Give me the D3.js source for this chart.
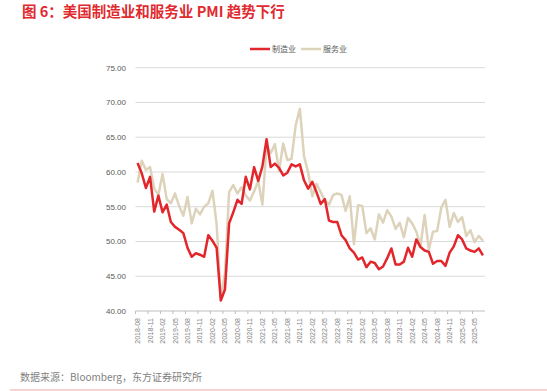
<!DOCTYPE html>
<html>
<head>
<meta charset="utf-8">
<script src="https://cdn.jsdelivr.net/npm/d3@7/dist/d3.min.js"></script>
<style>
  body { margin: 0; background: #fff; }
  svg { display: block; font-family: "Noto Sans CJK SC", "Liberation Sans", sans-serif; }
</style>
</head>
<body>
<svg id="chart"></svg>
<script>
// months 2018-08 .. 2025-07
const months = d3.range(84).map(i => {
  const m = 7 + i;  // 0-based month index from Jan 2018
  return (2018 + Math.floor(m / 12)) + "-" + String(m % 12 + 1).padStart(2, "0");
});

// ISM 制造业 PMI
const manufacturing = [
  61.3, 59.8, 57.7, 59.3, 54.3,
  56.6, 54.2, 55.3, 52.8, 52.1, 51.7, 51.2, 49.1, 47.8, 48.3, 48.1, 47.8,
  50.9, 50.1, 49.1, 41.5, 43.1, 52.6, 54.2, 56.0, 55.4, 59.3, 57.5, 60.7,
  58.7, 60.8, 64.7, 60.7, 61.2, 60.6, 59.5, 59.9, 61.1, 60.8, 61.1, 58.8,
  57.6, 58.6, 57.1, 55.4, 56.1, 53.0, 52.8, 52.8, 50.9, 50.2, 49.0, 48.4,
  47.4, 47.7, 46.3, 47.1, 46.9, 46.0, 46.4, 47.6, 49.0, 46.7, 46.7, 47.1,
  49.1, 47.8, 50.3, 49.2, 48.7, 48.5, 46.8, 47.2, 47.2, 46.5, 48.4, 49.3,
  50.9, 50.3, 49.0, 48.7, 48.5, 49.0, 48.0
];

// ISM 服务业 PMI
const services = [
  58.5, 61.6, 60.3, 60.7, 57.6,
  56.7, 59.7, 56.1, 55.5, 56.9, 55.1, 53.7, 56.4, 52.6, 54.7, 53.9, 55.0,
  55.5, 57.3, 52.5, 41.8, 45.4, 57.1, 58.1, 56.9, 57.8, 56.6, 55.9, 57.2,
  58.7, 55.3, 63.7, 62.7, 64.0, 60.1, 64.1, 61.7, 61.9, 66.7, 69.1, 62.3,
  59.9, 56.5, 58.3, 57.1, 55.9, 55.3, 56.7, 56.9, 56.7, 54.4, 56.5, 49.6,
  55.2, 55.1, 51.2, 51.9, 50.3, 53.9, 52.7, 54.5, 53.6, 51.8, 52.7, 50.6,
  53.4, 52.6, 51.4, 49.4, 53.8, 48.8, 51.4, 51.5, 54.9, 56.0, 52.1, 54.1,
  52.8, 53.5, 50.8, 51.6, 49.9, 50.8, 50.1
];

const yTicks = [40, 45, 50, 55, 60, 65, 70, 75];
const seriesNames = ["制造业", "服务业"];
const seriesColors = ["#e3262b", "#ddd3bb"];

const W = 547, H = 391;
const svg = d3.select("#chart").attr("width", W).attr("height", H);

// title
svg.append("text")
  .attr("x", 22).attr("y", 17)
  .attr("fill", "#df2a2f")
  .attr("font-size", 14.5).attr("font-weight", "bold")
  .text("图 6：美国制造业和服务业 PMI 趋势下行");

const plotL = 135.5, plotR = 485, plotT = 67.7, plotB = 311;

const x = d3.scaleBand().domain(months).range([plotL, plotR]);
const y = d3.scaleLinear().domain([40, 75]).range([plotB, plotT]);
const cx = d => x(d) + x.bandwidth() / 2;

// grid
svg.append("g")
  .selectAll("line")
  .data(yTicks.slice(1))
  .join("line")
  .attr("x1", plotL).attr("x2", plotR)
  .attr("y1", d => y(d)).attr("y2", d => y(d))
  .attr("stroke", "#d9d9d9").attr("stroke-width", 1);

// y labels
svg.append("g")
  .selectAll("text")
  .data(yTicks)
  .join("text")
  .attr("x", 126).attr("y", d => y(d) + 3)
  .attr("text-anchor", "end")
  .attr("font-size", 8)
  .attr("fill", "#595959")
  .attr("font-family", "Liberation Sans, sans-serif")
  .text(d => d.toFixed(2));

// x axis line + ticks
svg.append("line")
  .attr("x1", plotL).attr("x2", plotR)
  .attr("y1", plotB).attr("y2", plotB)
  .attr("stroke", "#bfbfbf");

const tickMonths = months.filter((d, i) => i % 3 === 0);
svg.append("g")
  .selectAll("line")
  .data(tickMonths)
  .join("line")
  .attr("x1", d => x(d)).attr("x2", d => x(d))
  .attr("y1", plotB).attr("y2", plotB + 3)
  .attr("stroke", "#bfbfbf");

svg.append("g")
  .selectAll("text")
  .data(tickMonths)
  .join("text")
  .attr("transform", d => `translate(${cx(d) + 2.5},${plotB + 7}) rotate(-90)`)
  .attr("text-anchor", "end")
  .attr("font-size", 7)
  .attr("fill", "#7f7f7f")
  .attr("font-family", "Liberation Sans, sans-serif")
  .text(d => d);

// lines
const line = d3.line().x((d, i) => cx(months[i])).y(d => y(d));
[services, manufacturing].forEach((s, k) => {
  svg.append("path")
    .datum(s)
    .attr("d", line)
    .attr("fill", "none")
    .attr("stroke", k === 0 ? seriesColors[1] : seriesColors[0])
    .attr("stroke-width", 2.5)
    .attr("stroke-linejoin", "round");
});

// legend
const legend = svg.append("g").attr("transform", "translate(250,49)");
seriesNames.forEach((n, i) => {
  const g = legend.append("g").attr("transform", `translate(${i * 51},0)`);
  g.append("line").attr("x1", 0).attr("x2", 20).attr("y1", 0).attr("y2", 0)
    .attr("stroke", seriesColors[i]).attr("stroke-width", 2.5);
  g.append("text").attr("x", 22).attr("y", 3)
    .attr("font-size", 8).attr("fill", "#595959").text(n);
});

// footer
svg.append("text")
  .attr("x", 20).attr("y", 381)
  .attr("font-size", 10).attr("fill", "#7f7f7f")
  .text("数据来源：Bloomberg，东方证券研究所");

svg.append("line")
  .attr("x1", 10).attr("x2", W).attr("y1", 390).attr("y2", 390)
  .attr("stroke", "#f3c5c2").attr("stroke-width", 1.5);
</script>
</body>
</html>
